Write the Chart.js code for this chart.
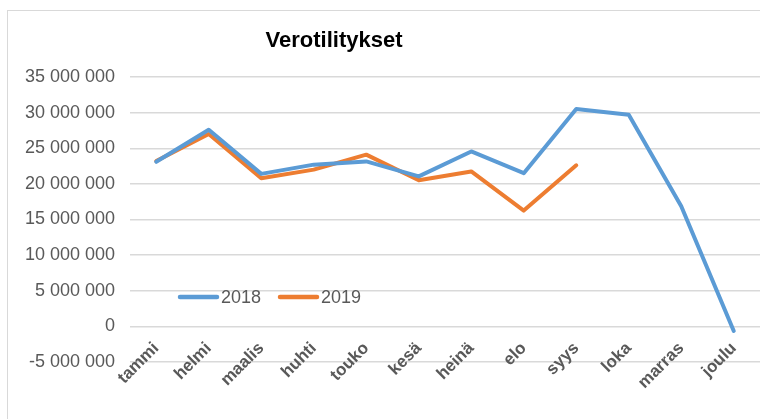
<!DOCTYPE html>
<html>
<head>
<meta charset="utf-8">
<script src="https://cdn.jsdelivr.net/npm/chart.js@4"></script>
<style>
  html, body { margin: 0; padding: 0; background: #fff; overflow: hidden; }
  #wrap { position: relative; width: 760px; height: 419px; }
  #frame { position: absolute; left: 7px; top: 10px; width: 800px; height: 450px; border: 1px solid #d9d9d9; }
  #chart { position: absolute; left: 0; top: 0; }
</style>
</head>
<body>
<div id="wrap">
  <div id="frame"></div>
  <canvas id="chart" width="760" height="419"></canvas>
</div>
<script>
// kuukaudet ja arvot
const months = ['tammi', 'helmi', 'maalis', 'huhti', 'touko', 'kesä', 'heinä', 'elo', 'syys', 'loka', 'marras', 'joulu'];
const values2018 = [23100000, 27600000, 21400000, 22700000, 23150000, 21050000, 24550000, 21500000, 30500000, 29700000, 16850000, -650000];
const values2019 = [23200000, 27000000, 20800000, 22000000, 24100000, 20500000, 21750000, 16250000, 22600000];
const seriesNames = ['2018', '2019'];
const chartTitle = 'Verotilitykset';

const BLUE = '#5B9BD5';
const ORANGE = '#ED7D31';
const GREY = '#595959';
const FONT = '"Liberation Sans", Arial, sans-serif';

function formatTick(v) {
    const s = Math.abs(v).toString().replace(/\B(?=(\d{3})+(?!\d))/g, ' ');
    return (v < 0 ? '-' : '') + s;
}

// otsikko ja selite piirretään itse
const customDraw = {
    id: 'customDraw',
    afterDraw(chart) {
        const ctx = chart.ctx;
        ctx.save();
        ctx.fillStyle = '#000';
        ctx.font = 'bold 22px ' + FONT;
        ctx.textAlign = 'center';
        ctx.textBaseline = 'middle';
        ctx.fillText(chartTitle, 334, 41);

        // selite
        ctx.font = '18px ' + FONT;
        ctx.textAlign = 'left';
        let x = 178;
        const y = 297;
        chart.data.datasets.forEach(ds => {
            ctx.strokeStyle = ds.borderColor;
            ctx.lineWidth = 4.5;
            ctx.lineCap = 'round';
            ctx.beginPath();
            ctx.moveTo(x + 2, y);
            ctx.lineTo(x + 39, y);
            ctx.stroke();
            ctx.fillStyle = GREY;
            ctx.fillText(ds.label, x + 43, y + 1);
            x += 100;
        });
        ctx.restore();
    }
};

new Chart(document.getElementById('chart'), {
    type: 'line',
    data: {
        labels: months,
        datasets: [
            {
                label: seriesNames[0],
                data: values2018,
                borderColor: BLUE,
                backgroundColor: BLUE,
                borderWidth: 4,
                pointRadius: 0,
                tension: 0,
                borderCapStyle: 'round',
                borderJoinStyle: 'round'
            },
            {
                label: seriesNames[1],
                data: values2019,
                borderColor: ORANGE,
                backgroundColor: ORANGE,
                borderWidth: 4,
                pointRadius: 0,
                tension: 0,
                borderCapStyle: 'round',
                borderJoinStyle: 'round'
            }
        ]
    },
    options: {
        responsive: false,
        animation: false,
        layout: { padding: { top: 77, left: 0, right: 0, bottom: 57 } },
        plugins: {
            legend: { display: false },
            title: { display: false },
            tooltip: { enabled: false }
        },
        scales: {
            x: {
                position: { y: 0 },
                offset: true,
                grid: { display: false },
                border: { display: false },
                ticks: {
                    color: GREY,
                    font: { family: FONT, size: 17, weight: 'bold' },
                    minRotation: 45,
                    maxRotation: 45,
                    padding: 4,
                    autoSkip: false
                }
            },
            y: {
                min: -5000000,
                max: 35000000,
                grid: { color: '#d9d9d9', lineWidth: 1.5, drawTicks: false },
                border: { display: false },
                ticks: {
                    stepSize: 5000000,
                    color: GREY,
                    padding: 15,
                    font: { family: FONT, size: 18 },
                    callback: v => formatTick(v)
                },
                afterFit(scale) { scale.width = 130; }
            }
        }
    },
    plugins: [customDraw]
});
</script>
</body>
</html>
